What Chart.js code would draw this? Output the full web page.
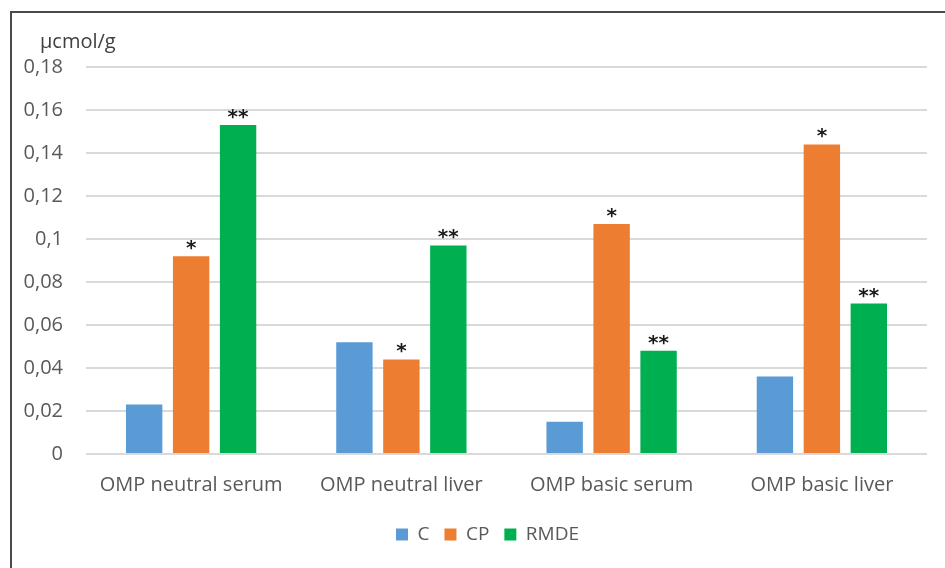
<!DOCTYPE html>
<html>
<head>
<meta charset="utf-8">
<script src="https://cdn.jsdelivr.net/npm/chart.js@4"></script>
<style>
  html, body { margin: 0; padding: 0; background: #fff; }
  #wrap { position: relative; width: 945px; height: 568px; }
  #frame {
    position: absolute; left: 10px; top: 11px; right: 0; bottom: 0;
    border-left: 2px solid #4a4a4a; border-top: 2px solid #4a4a4a;
    pointer-events: none;
  }
</style>
</head>
<body>
<div id="wrap">
  <canvas id="chart" width="945" height="568"></canvas>
  <div id="frame"></div>
</div>
<script>
// Measured content per sample group
const categories = ['OMP neutral serum', 'OMP neutral liver', 'OMP basic serum', 'OMP basic liver'];
const seriesNames = ['C', 'CP', 'RMDE'];
const cValues = [0.023, 0.052, 0.015, 0.036];
const cpValues = [0.092, 0.044, 0.107, 0.144];
const rmdeValues = [0.153, 0.097, 0.048, 0.070];
// Significance marks drawn above each bar
const cMarks = ['', '', '', ''];
const cpMarks = ['*', '*', '*', '*'];
const rmdeMarks = ['**', '**', '**', '**'];
const yTicks = [0, 0.02, 0.04, 0.06, 0.08, 0.1, 0.12, 0.14, 0.16, 0.18];
const unitLabel = 'µcmol/g';

const FONT = '"Open Sans", sans-serif';
const GREY = '#595959';

const marks = [cMarks, cpMarks, rmdeMarks];

// Stars centred a fixed distance above each bar top
const starPlugin = {
  id: 'stars',
  afterDatasetsDraw(chart) {
    const ctx = chart.ctx;
    ctx.save();
    ctx.fillStyle = '#1a1a1a';
    ctx.font = 'bold 20px "DejaVu Sans", sans-serif';
    ctx.textAlign = 'center';
    ctx.textBaseline = 'alphabetic';
    chart.data.datasets.forEach((ds, i) => {
      const meta = chart.getDatasetMeta(i);
      meta.data.forEach((bar, j) => {
        const m = marks[i][j];
        if (!m) return;
        const tm = ctx.measureText(m);
        const target = bar.y - 11;
        const base = target + (tm.actualBoundingBoxAscent - tm.actualBoundingBoxDescent) / 2;
        ctx.fillText(m, bar.x, base);
      });
    });
    ctx.restore();
  }
};

const unitPlugin = {
  id: 'unit',
  afterDraw(chart) {
    const ctx = chart.ctx;
    ctx.save();
    ctx.fillStyle = '#404040';
    ctx.font = '20px ' + FONT;
    ctx.textAlign = 'left';
    ctx.textBaseline = 'alphabetic';
    ctx.fillText(unitLabel, 40, 48);
    ctx.restore();
  }
};

// Nudge the legend so it centres under the whole frame rather than the canvas
const legendShift = {
  id: 'legendShift',
  afterLayout(chart) {
    const lg = chart.legend;
    if (lg) { lg.left += 14; lg.right += 14; }
  }
};

new Chart(document.getElementById('chart'), {
  type: 'bar',
  data: {
    labels: categories,
    datasets: [
      { label: seriesNames[0], data: cValues, backgroundColor: '#5B9BD5' },
      { label: seriesNames[1], data: cpValues, backgroundColor: '#ED7D31' },
      { label: seriesNames[2], data: rmdeValues, backgroundColor: '#00B050' }
    ]
  },
  options: {
    responsive: false,
    animation: false,
    devicePixelRatio: 1,
    categoryPercentage: 0.67,
    barPercentage: 0.775,
    layout: { padding: { left: 20, right: 18, top: 67, bottom: 14 } },
    plugins: {
      tooltip: { enabled: false },
      legend: {
        position: 'bottom',
        labels: {
          color: GREY,
          font: { family: FONT, size: 19 },
          boxWidth: 12,
          boxHeight: 12,
          padding: 15
        }
      }
    },
    scales: {
      x: {
        grid: { display: false },
        border: { display: false },
        ticks: { color: GREY, font: { family: FONT, size: 20 }, padding: 11 },
        afterFit(scale) { scale.height = 56; }
      },
      y: {
        min: 0,
        max: 0.18,
        afterBuildTicks(scale) { scale.ticks = yTicks.map(v => ({ value: v })); },
        grid: { color: '#d9d9d9', lineWidth: 2, drawTicks: false },
        border: { display: false },
        ticks: {
          color: GREY,
          font: { family: FONT, size: 20 },
          padding: 23,
          callback: v => String(+Number(v).toFixed(2)).replace('.', ',')
        },
        afterFit(scale) { scale.width = 66; }
      }
    }
  },
  plugins: [starPlugin, unitPlugin, legendShift]
});
</script>
</body>
</html>
